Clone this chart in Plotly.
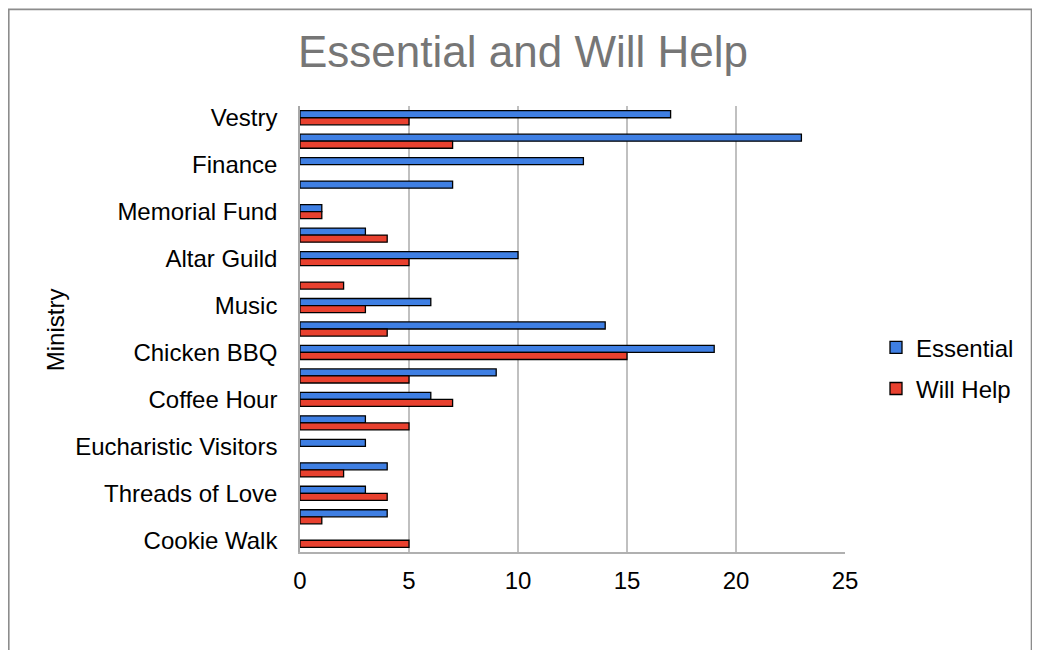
import plotly.graph_objects as go

# Categories top-to-bottom (only every other one is labelled in the reference)
categories = [
    "Vestry", "Ministry 2", "Finance", "Ministry 4", "Memorial Fund",
    "Ministry 6", "Altar Guild", "Ministry 8", "Music", "Ministry 10",
    "Chicken BBQ", "Ministry 12", "Coffee Hour", "Ministry 14",
    "Eucharistic Visitors", "Ministry 16", "Threads of Love", "Ministry 18",
    "Cookie Walk",
]
labelled = ["Vestry", "Finance", "Memorial Fund", "Altar Guild", "Music",
            "Chicken BBQ", "Coffee Hour", "Eucharistic Visitors",
            "Threads of Love", "Cookie Walk"]

essential = [17, 23, 13, 7, 1, 3, 10, 0, 6, 14, 19, 9, 6, 3, 3, 4, 3, 4, 0]
will_help = [5, 7, 0, 0, 1, 4, 5, 2, 3, 4, 15, 5, 7, 5, 0, 2, 4, 1, 5]

x_ticks = [0, 5, 10, 15, 20, 25]

FONT = "Arial, Liberation Sans, sans-serif"
BLUE = "#3f7fe3"
RED = "#e8412f"


def outline_widths(values):
    # zero-length bars get no outline (as in the reference)
    return [1.3 if v else 0 for v in values]


fig = go.Figure()
fig.add_trace(go.Bar(
    y=categories, x=essential, name="Essential", orientation="h",
    marker=dict(color=BLUE,
                line=dict(color="#000000", width=outline_widths(essential))),
    legendgroup="a",
))
fig.add_trace(go.Bar(
    y=categories, x=will_help, name="Will Help", orientation="h",
    marker=dict(color=RED,
                line=dict(color="#000000", width=outline_widths(will_help))),
    legendgroup="b",
))

# page has an 8px body margin, so the figure is laid out in local coords
OFF = 8
W, H = 1040 - OFF, 650 - OFF
L, R, T, B = 300 - OFF, 195, 105.5 - OFF, 98
pw = W - L - R
ph = H - T - B

def px_x(x):
    return (x - OFF - L) / pw

def px_y(y):
    return (H - B - (y - OFF)) / ph

fig.update_layout(
    width=W, height=H,
    margin=dict(l=L, r=R, t=T, b=B, autoexpand=False),
    paper_bgcolor="white", plot_bgcolor="white",
    font=dict(family=FONT, size=24, color="#000000"),
    barmode="group", bargap=0.4, bargroupgap=0,
    title=dict(text="Essential and Will Help", x=(523 - OFF) / W,
               xanchor="center", y=1 - (52 - OFF) / H, yanchor="middle",
               yref="container",
               font=dict(family=FONT, size=44, color="#767676")),
    xaxis=dict(range=[0, 25], tickvals=x_ticks, showgrid=True,
               gridcolor="#c0c0c0", gridwidth=1.5, showline=True,
               linecolor="#b0b0b0", linewidth=1.5, zeroline=False,
               ticks="", ticklabelstandoff=6,
               tickfont=dict(family=FONT, size=24, color="#000000"),
               fixedrange=True),
    yaxis=dict(categoryorder="array", categoryarray=categories,
               autorange="reversed", tickmode="array", tickvals=labelled,
               ticktext=labelled, showline=True, linecolor="#a8a8a8",
               linewidth=1.5, showgrid=False, ticks="",
               ticklabelstandoff=16,
               tickfont=dict(family=FONT, size=24, color="#000000"),
               fixedrange=True),
    legend=dict(x=px_x(876), xanchor="left", y=px_y(368), yanchor="middle",
                traceorder="grouped", tracegroupgap=7,
                font=dict(family=FONT, size=24, color="#000000"),
                bgcolor="rgba(0,0,0,0)"),
    showlegend=True,
    annotations=[dict(text="Ministry", textangle=-90, x=px_x(55), y=px_y(330),
                      xref="paper", yref="paper", showarrow=False,
                      xanchor="center", yanchor="middle",
                      font=dict(family=FONT, size=24, color="#000000"))],
    shapes=[dict(type="rect", xref="paper", yref="paper",
                 x0=px_x(8.8), x1=px_x(1031.5), y0=px_y(700), y1=px_y(8.8),
                 line=dict(color="#8c8c8c", width=1.6), layer="below")],
)

fig.write_html("out.html")
